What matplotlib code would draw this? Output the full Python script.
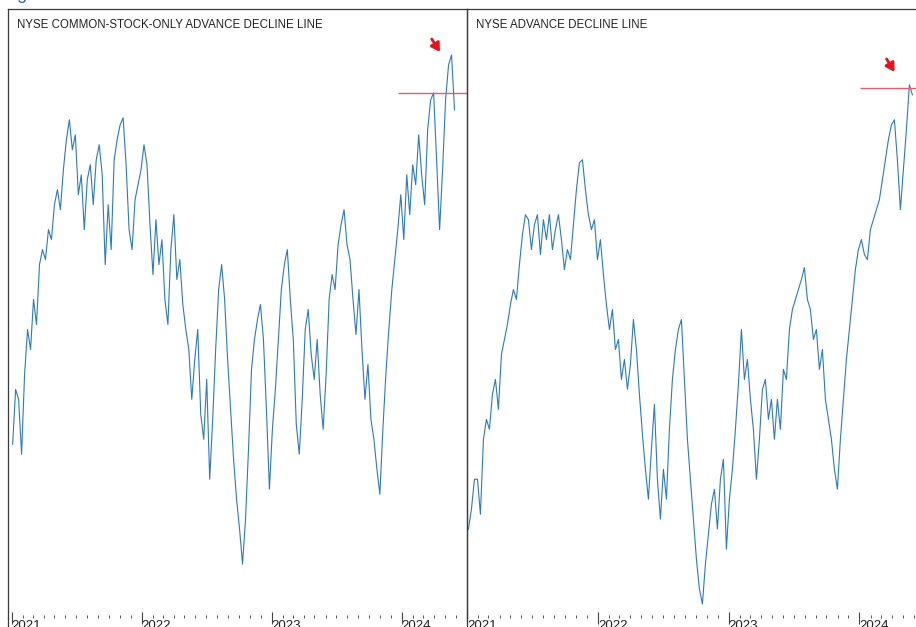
import numpy as np
import pandas as pd
import matplotlib
matplotlib.use('Agg')
import matplotlib.pyplot as plt
import matplotlib.dates as mdates
from matplotlib.lines import Line2D

plt.rcParams['font.family'] = ['Liberation Sans', 'DejaVu Sans']

# weekly-ish samples, Jan 2021 .. end of May 2024 (values are A/D line level, arbitrary units)
dates = pd.date_range('2021-01-04', '2024-05-28', periods=149)

ad_common = [185, 240, 230, 175, 255, 300, 280, 330, 305, 365,
             380, 370, 400, 390, 425, 440, 420, 460, 490, 510,
             480, 495, 435, 455, 400, 450, 465, 425, 470, 485,
             455, 365, 425, 380, 470, 490, 505, 512, 465, 400,
             380, 430, 445, 460, 485, 465, 405, 355, 410, 365,
             390, 330, 305, 380, 415, 350, 370, 325, 300, 280,
             230, 270, 300, 215, 190, 250, 150, 210, 280, 340,
             365, 330, 270, 220, 170, 130, 100, 65, 110, 180,
             260, 290, 310, 325, 290, 220, 140, 200, 240, 290,
             340, 365, 380, 330, 290, 205, 175, 230, 300, 320,
             275, 250, 290, 235, 200, 255, 330, 355, 340, 385,
             405, 420, 385, 370, 330, 295, 340, 280, 230, 265,
             210, 190, 160, 135, 200, 255, 300, 340, 370, 400,
             435, 390, 455, 415, 465, 445, 495, 455, 425, 500,
             530, 537, 470, 400, 460, 530, 565, 575, 520]

ad_nyse = [100, 120, 150, 150, 115, 190, 210, 200, 235, 250,
           220, 275, 290, 305, 325, 340, 330, 365, 395, 415,
           410, 380, 405, 415, 375, 410, 390, 415, 380, 400,
           415, 390, 360, 380, 370, 405, 440, 467, 470, 440,
           415, 400, 410, 370, 390, 355, 325, 300, 320, 280,
           290, 250, 270, 240, 265, 310, 280, 235, 195, 160,
           130, 180, 225, 150, 110, 160, 130, 200, 250, 280,
           300, 310, 250, 190, 150, 110, 70, 40, 25, 65,
           95, 125, 140, 100, 150, 170, 80, 130, 160, 200,
           245, 300, 250, 270, 230, 200, 150, 190, 240, 250,
           210, 230, 190, 230, 200, 260, 250, 300, 320, 330,
           340, 350, 362, 330, 320, 290, 300, 260, 280, 230,
           210, 190, 160, 140, 190, 230, 270, 300, 330, 360,
           380, 390, 375, 370, 400, 410, 420, 430, 450, 470,
           490, 505, 510, 470, 420, 460, 500, 545, 535]

titles = ['NYSE COMMON-STOCK-ONLY ADVANCE DECLINE LINE', 'NYSE ADVANCE DECLINE LINE']
peak_lines = [(537, '2023-12-22'), (542, '2024-01-04')]
arrows = [(('2024-03-25', 591), ('2024-04-17', 578)),
          (('2024-03-17', 571), ('2024-04-08', 558))]

line_color = '#2a7bbf'
frame_color = '#3a3a3a'

fig = plt.figure(figsize=(9.16, 6.27), dpi=100)
W, H = 916, 627
bottom = (H - 618) / H
height = (618 - 9) / H
ax_l = fig.add_axes([8 / W, bottom, 459 / W, height])
ax_r = fig.add_axes([467 / W, bottom, 459 / W, height])

xlims = [('2020-12-22', '2024-07-02'), ('2020-12-31', '2024-07-05')]
series = [ad_common, ad_nyse]

for i, ax in enumerate([ax_l, ax_r]):
    ax.plot(dates, series[i], color=line_color, lw=0.8)
    ax.set_xlim(pd.Timestamp(xlims[i][0]), pd.Timestamp(xlims[i][1]))
    ax.set_ylim(11, 621)
    level, start = peak_lines[i]
    ax.hlines(level, pd.Timestamp(start), pd.Timestamp(xlims[i][1]),
              color='#e06070', lw=1.0)
    (t0, v0), (t1, v1) = arrows[i]
    ax.annotate('', xy=(pd.Timestamp(t1), v1), xytext=(pd.Timestamp(t0), v0),
                arrowprops=dict(arrowstyle='-|>,head_length=0.5,head_width=0.3',
                                color='#e8121b', lw=2.0, shrinkA=0, shrinkB=0))
    ax.text(0.019, 0.974, titles[i], transform=ax.transAxes,
            fontsize=8.3, color='#222222', va='center', ha='left')
    ax.set_yticks([])
    ax.spines['bottom'].set_visible(False)
    ax.spines['right'].set_visible(i == 0)
    for s in ['top', 'left', 'right']:
        ax.spines[s].set_color(frame_color)
        ax.spines[s].set_linewidth(0.9)
    ax.xaxis.set_major_locator(mdates.YearLocator())
    ax.xaxis.set_major_formatter(mdates.DateFormatter('%Y'))
    ax.xaxis.set_minor_locator(mdates.MonthLocator())
    ax.tick_params(axis='x', which='minor', direction='in', length=2.5,
                   width=0.7, color='#555555')
    ax.tick_params(axis='x', which='major', direction='inout', length=9,
                   width=0.8, color='#444444', pad=-3, labelsize=9.5,
                   labelcolor='#222222')
    for lab in ax.get_xticklabels():
        lab.set_ha('left')
    ax.set_facecolor('none')

# frame lines running down past the tick row
for xp in [8, 467]:
    fig.add_artist(Line2D([xp / W, xp / W], [0, bottom], color=frame_color, lw=0.9))

# cropped heading above the frame
fig.text(3 / W, 1 + 1.0 / H, 'Figure', color='#1f6fc5', fontsize=13, va='baseline', ha='left')

fig.savefig('out.png', dpi=100)
